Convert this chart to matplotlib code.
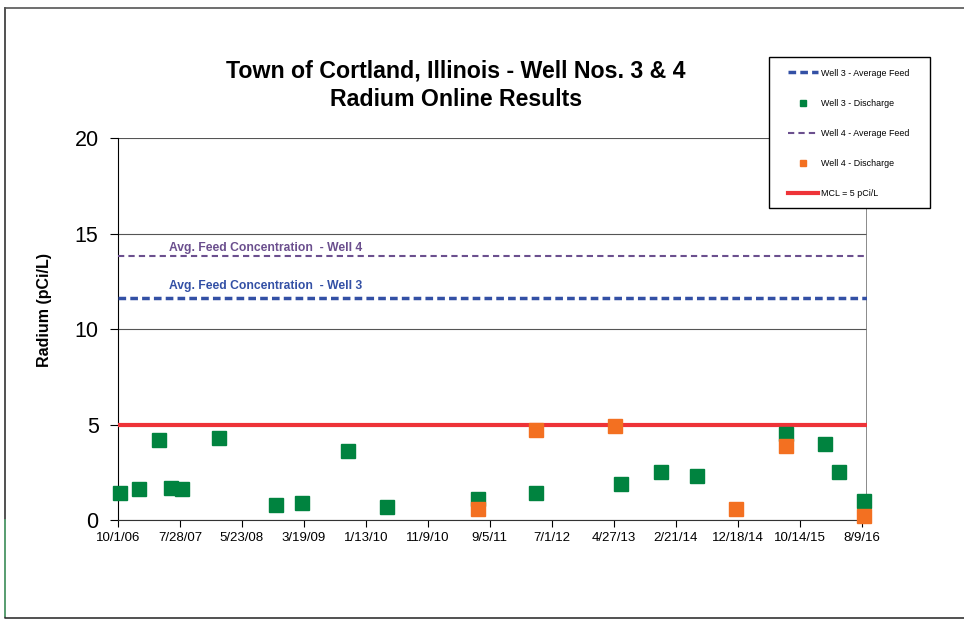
import numpy as np
import pandas as pd
import matplotlib
matplotlib.use('Agg')
import matplotlib.pyplot as plt
from matplotlib.patches import Rectangle
from matplotlib.lines import Line2D

plt.rcParams['font.family'] = ['Liberation Sans', 'DejaVu Sans']

# 数据
w3_dates = ['2006-10-11', '2007-01-10', '2007-04-17', '2007-06-14', '2007-08-06',
            '2008-02-01', '2008-11-03', '2009-03-08', '2009-10-17', '2010-04-24',
            '2011-07-12', '2012-04-17', '2013-06-02', '2013-12-12', '2014-06-04',
            '2015-08-08', '2016-02-13', '2016-04-21', '2016-08-19']
w3_values = [1.4, 1.6, 4.2, 1.7, 1.6, 4.3, 0.8, 0.9, 3.6, 0.7,
             1.1, 1.4, 1.9, 2.5, 2.3, 4.5, 4.0, 2.5, 1.0]

w4_dates = ['2011-07-12', '2012-04-17', '2013-05-04', '2014-12-10', '2015-08-08', '2016-08-19']
w4_values = [0.6, 4.7, 4.9, 0.6, 3.9, 0.2]

w3_avg_feed = 11.6
w4_avg_feed = 13.8
mcl = 5.0

tick_labels = ['10/1/06', '7/28/07', '5/23/08', '3/19/09', '1/13/10', '11/9/10', '9/5/11',
               '7/1/12', '4/27/13', '2/21/14', '12/18/14', '10/14/15', '8/9/16']

c_blue = '#3350A5'
c_purple = '#6B4F8E'
c_green = '#00833F'
c_orange = '#F37021'
c_red = '#EE3338'

w3_x = pd.to_datetime(w3_dates)
w4_x = pd.to_datetime(w4_dates)
tick_x = pd.to_datetime(tick_labels, format='%m/%d/%y')

fig = plt.figure(figsize=(9.64, 6.22), dpi=100)
ax = fig.add_axes([0.1224, 0.164, 0.7766, 0.614])

ax.axhline(w3_avg_feed, color=c_blue, lw=2.5, ls=(0, (2.2, 1.2)), label='Well 3 - Average Feed', zorder=3)
ax.plot(w3_x, w3_values, 's', color=c_green, ms=9.5, mec=c_green, label='Well 3 - Discharge',
        zorder=4, clip_on=False)
ax.axhline(w4_avg_feed, color=c_purple, lw=1.5, ls=(0, (3, 2)), label='Well 4 - Average Feed', zorder=3)
ax.plot(w4_x, w4_values, 's', color=c_orange, ms=9.5, mec=c_orange, label='Well 4 - Discharge',
        zorder=5, clip_on=False)
ax.axhline(mcl, color=c_red, lw=3, label='MCL = 5 pCi/L', zorder=3)

ax.set_xlim(pd.Timestamp('2006-10-01'), pd.Timestamp('2016-09-02'))
ax.set_ylim(0, 20)
ax.set_yticks([0, 5, 10, 15, 20])
ax.set_xticks(tick_x)
ax.set_xticklabels(tick_labels, fontsize=9.5)
ax.tick_params(axis='y', labelsize=15.5, direction='out', length=6, pad=8)
ax.tick_params(axis='x', direction='out', length=5, pad=4)
ax.yaxis.grid(True, color='#555555', lw=0.8)
ax.set_axisbelow(True)

for s in ['top', 'right']:
    ax.spines[s].set_visible(False)
ax.axvline(ax.get_xlim()[1], color='#777777', lw=1.2)
ax.spines['left'].set_color('black')
ax.spines['bottom'].set_color('#333333')

ax.set_ylabel('Radium (pCi/L)', fontsize=11.5, fontweight='bold')
ax.yaxis.set_label_coords(-0.088, 0.55)

ax.text(pd.Timestamp('2008-09-15'), 14.27, 'Avg. Feed Concentration  - Well 4', color=c_purple,
        fontsize=8.7, fontweight='bold', ha='center', va='center')
ax.text(pd.Timestamp('2008-09-15'), 12.23, 'Avg. Feed Concentration  - Well 3', color=c_blue,
        fontsize=8.7, fontweight='bold', ha='center', va='center')

fig.text(456 / 964, 1 - 71 / 622, 'Town of Cortland, Illinois - Well Nos. 3 & 4', fontsize=16.7,
         fontweight='bold', ha='center', va='center')
fig.text(456 / 964, 1 - 100 / 622, 'Radium Online Results', fontsize=16.7,
         fontweight='bold', ha='center', va='center')

# 图例 (方框单独画)
fig.patches.append(Rectangle((769 / 964, 1 - 208 / 622), 161 / 964, 151 / 622, transform=fig.transFigure,
                             facecolor='white', edgecolor='black', lw=1.0, zorder=5))
handles, labels = ax.get_legend_handles_labels()
leg = fig.legend(handles, labels, loc='upper left', bbox_to_anchor=(788 / 964, 1 - 68.5 / 622),
                 bbox_transform=fig.transFigure, fontsize=6.4, handlelength=3.43, labelspacing=2.38,
                 markerscale=0.5, borderpad=0, handletextpad=0.33, frameon=False, borderaxespad=0)
leg.set_zorder(6)

# 外框
fig.add_artist(Line2D([5 / 964, 5 / 964, 1.0], [1 - 8 / 622, 1 - 618 / 622, 1 - 618 / 622],
                      transform=fig.transFigure, color='#333333', lw=1.2))
fig.add_artist(Line2D([5 / 964, 1.0], [1 - 8 / 622, 1 - 8 / 622],
                      transform=fig.transFigure, color='#555555', lw=1.2))
fig.add_artist(Line2D([5 / 964, 5 / 964], [1 - 520 / 622, 1 - 616 / 622],
                      transform=fig.transFigure, color='#5DAE7A', lw=1.2))

fig.savefig('out.png', dpi=100)
